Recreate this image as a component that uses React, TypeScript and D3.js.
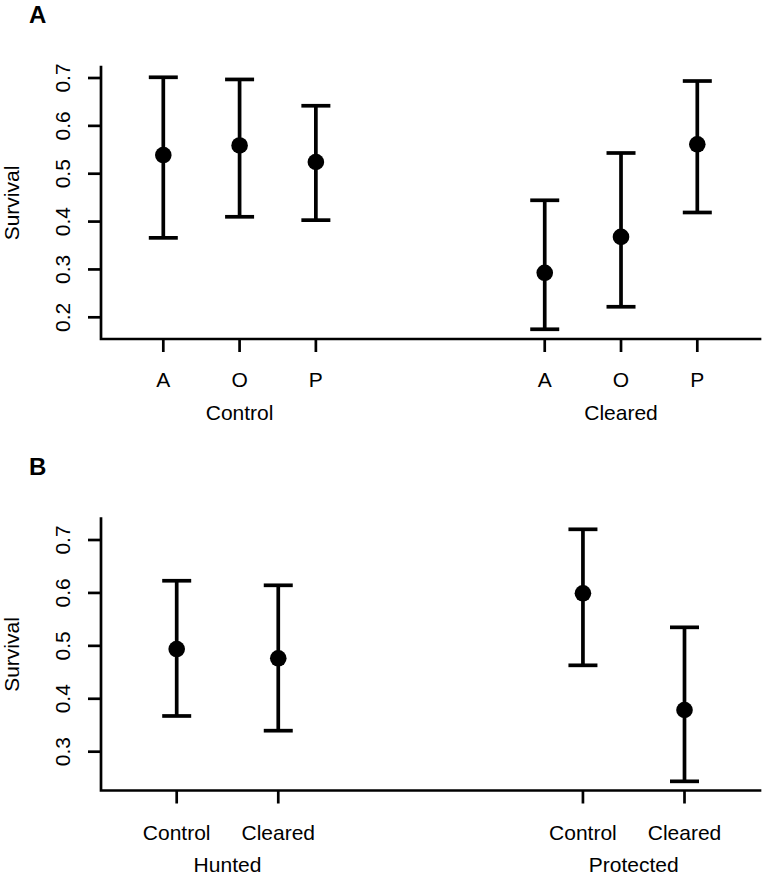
import React from "react";
import * as d3 from "d3";

// Panel A data
const groupsA = ["Control", "Cleared"];
const catsA = ["A", "O", "P", "A", "O", "P"];
const posA = [1, 2, 3, 6, 7, 8];
const meanA = [0.539, 0.559, 0.5245, 0.293, 0.368, 0.5615];
const lowA = [0.366, 0.41, 0.403, 0.175, 0.222, 0.419];
const highA = [0.7015, 0.697, 0.642, 0.4445, 0.5433, 0.6937];
const ticksA = [0.2, 0.3, 0.4, 0.5, 0.6, 0.7];

// Panel B data
const groupsB = ["Hunted", "Protected"];
const catsB = ["Control", "Cleared", "Control", "Cleared"];
const posB = [1, 2, 5, 6];
const meanB = [0.494, 0.4765, 0.5993, 0.3788];
const lowB = [0.3675, 0.3397, 0.4632, 0.244];
const highB = [0.623, 0.6144, 0.7202, 0.535];
const ticksB = [0.3, 0.4, 0.5, 0.6, 0.7];

const FONT = "'Liberation Sans', Arial, Helvetica, sans-serif";

type PanelProps = {
  letter: string;
  cats: string[];
  pos: number[];
  mean: number[];
  low: number[];
  high: number[];
  ticks: number[];
  groups: string[];
  groupPos: number[];
  x: d3.ScaleLinear<number, number>;
  y: d3.ScaleLinear<number, number>;
  top: number;
  bottom: number;
  letterY: number;
  tickLabelY: number;
  groupLabelY: number;
};

function Panel(p: PanelProps) {
  const left = 101;
  const right = 760;
  const axisW = 2.7;
  const barW = 3.7;
  const capHalf = 14.5;
  return (
    <g>
      <text x={29} y={p.letterY} fontFamily={FONT} fontWeight="bold" fontSize={24} fill="#000">
        {p.letter}
      </text>
      {/* y axis label */}
      <text
        transform={`translate(18.5,${(p.top + p.bottom) / 2}) rotate(-90)`}
        textAnchor="middle"
        fontFamily={FONT}
        fontSize={21}
        fill="#000"
      >
        Survival
      </text>
      {/* axes (L box) */}
      <path
        d={`M${left},${p.top}V${p.bottom}H${right}`}
        fill="none"
        stroke="#000"
        strokeWidth={axisW}
        strokeLinecap="square"
      />
      {p.ticks.map((t, i) => (
        <g key={"yt" + i}>
          <line x1={left - 13} x2={left} y1={p.y(t)} y2={p.y(t)} stroke="#000" strokeWidth={axisW} />
          <text
            transform={`translate(69.5,${p.y(t)}) rotate(-90)`}
            textAnchor="middle"
            fontFamily={FONT}
            fontSize={21}
            fill="#000"
          >
            {d3.format(".1f")(t)}
          </text>
        </g>
      ))}
      {p.pos.map((v, i) => (
        <g key={"xt" + i}>
          <line x1={p.x(v)} x2={p.x(v)} y1={p.bottom} y2={p.bottom + 13} stroke="#000" strokeWidth={axisW} />
          <text x={p.x(v)} y={p.tickLabelY} textAnchor="middle" fontFamily={FONT} fontSize={21} fill="#000">
            {p.cats[i]}
          </text>
        </g>
      ))}
      {p.groups.map((g, i) => (
        <text
          key={"g" + i}
          x={p.x(p.groupPos[i])}
          y={p.groupLabelY}
          textAnchor="middle"
          fontFamily={FONT}
          fontSize={21}
          fill="#000"
        >
          {g}
        </text>
      ))}
      {p.pos.map((v, i) => {
        const cx = p.x(v);
        return (
          <g key={"e" + i} stroke="#000" strokeWidth={barW}>
            <line x1={cx} x2={cx} y1={p.y(p.high[i])} y2={p.y(p.low[i])} />
            <line x1={cx - capHalf} x2={cx + capHalf} y1={p.y(p.high[i])} y2={p.y(p.high[i])} />
            <line x1={cx - capHalf} x2={cx + capHalf} y1={p.y(p.low[i])} y2={p.y(p.low[i])} />
            <circle cx={cx} cy={p.y(p.mean[i])} r={8.3} fill="#000" stroke="none" />
          </g>
        );
      })}
    </g>
  );
}

export default function App() {
  const xA = d3.scaleLinear().domain([1, 8]).range([163.3, 697.3]);
  const yA = d3.scaleLinear().domain([0.2, 0.7]).range([317.3, 78]);
  const xB = d3.scaleLinear().domain([1, 6]).range([176.7, 684.5]);
  const yB = d3.scaleLinear().domain([0.3, 0.7]).range([751.7, 540]);
  return (
    <svg width={764} height={874} style={{ position: "absolute", left: 0, top: 0, background: "#fff" }}>
      <rect width={764} height={874} fill="#fff" />
      <Panel
        letter="A"
        cats={catsA}
        pos={posA}
        mean={meanA}
        low={lowA}
        high={highA}
        ticks={ticksA}
        groups={groupsA}
        groupPos={[2, 7]}
        x={xA}
        y={yA}
        top={67}
        bottom={339}
        letterY={23}
        tickLabelY={387}
        groupLabelY={419.5}
      />
      <Panel
        letter="B"
        cats={catsB}
        pos={posB}
        mean={meanB}
        low={lowB}
        high={highB}
        ticks={ticksB}
        groups={groupsB}
        groupPos={[1.5, 5.5]}
        x={xB}
        y={yB}
        top={518.5}
        bottom={790.5}
        letterY={475}
        tickLabelY={839.5}
        groupLabelY={871.5}
      />
    </svg>
  );
}
